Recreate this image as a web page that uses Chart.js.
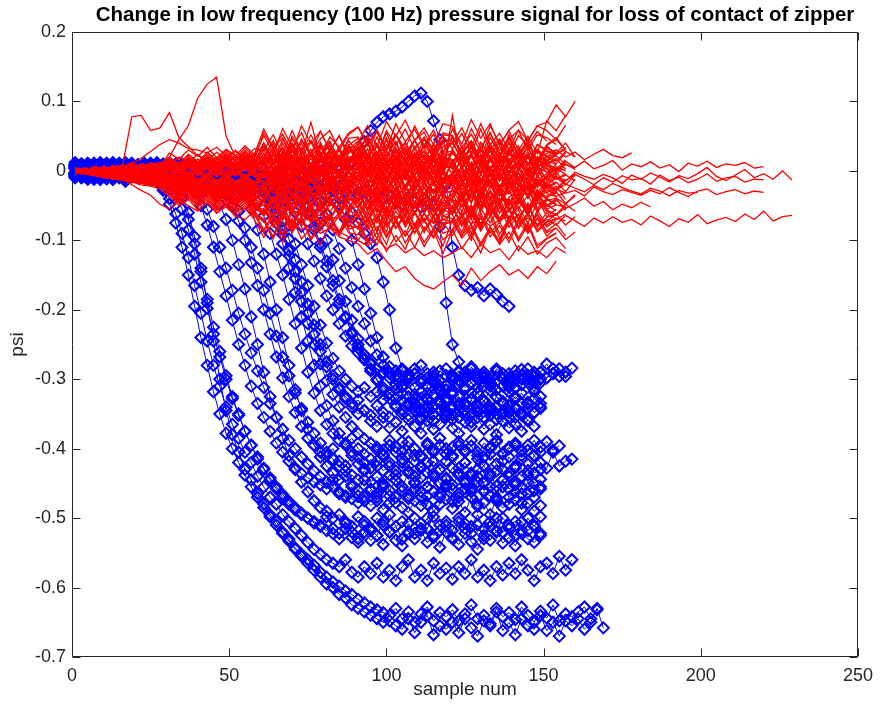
<!DOCTYPE html>
<html>
<head>
<meta charset="utf-8">
<title>Low frequency pressure signal – zipper contact loss</title>
<script src="https://cdn.jsdelivr.net/npm/chart.js@4.4.1/dist/chart.umd.min.js"></script>
<style>
  html, body { margin: 0; padding: 0; background: #ffffff; }
  canvas { display: block; }
</style>
</head>
<body>
<canvas id="chart" width="881" height="706"></canvas>
<script>
// ---- axis setup -------------------------------------------------------
const xTickValues = [0, 50, 100, 150, 200, 250];
const yTickValues = [0.2, 0.1, 0, -0.1, -0.2, -0.3, -0.4, -0.5, -0.6, -0.7];
const yTickLabels = ['0.2', '0.1', '0', '-0.1', '-0.2', '-0.3', '-0.4', '-0.5', '-0.6', '-0.7'];
const TITLE = 'Change in low frequency (100 Hz) pressure signal for loss of contact of zipper';

// Samples start at 1; red runs are stored every 3rd sample, blue runs every 2nd.
const FIRST_SAMPLE = 1;
const RED_STEP = 3;
const BLUE_STEP = 2;
// All run values below are in milli-psi.
const MPSI = 0.001;

// ---- contact lost (blue, diamond markers) -----------------------------
const blue01 = [5,-8,10,-3,12,-6,4,-10,8,-2, 6,-5,3,-9,-4,-12,-20,-35,-60,-95, -140,-190,-245,-300,-345,-380,-405,-430,-445,-465, -480,-495,-505,-520,-530,-545,-555,-565,-575,-585, -595,-600,-610,-615,-625,-630,-635,-640,-645,-650, -648,-655,-660,-645,-665,-650,-640,-668,-655,-660, -650,-665,-645,-658,-670,-648,-655,-635,-662,-650, -668,-645,-655,-660,-640,-662,-650,-670,-648,-655, -645,-660,-650,-630,-658];
const blue02 = [-6,8,-12,4,-3,11,-8,2,-15,6, -4,9,-10,-15,-25,-40,-62,-90,-125,-165, -205,-245,-280,-310,-340,-365,-385,-405,-420,-440, -455,-470,-480,-495,-505,-515,-525,-535,-545,-552, -560,-565,-570,-560,-578,-585,-570,-580,-565,-585, -575,-590,-570,-560,-585,-575,-590,-565,-580,-572, -588,-570,-580,-560,-585,-575,-590,-570,-582,-565, -580,-560,-575,-590,-570,-565,-580,-555,-575,-560];
const blue03 = [10,-4,6,-11,3,-7,12,-2,8,-9, 4,-6,11,-3,-8,-14,-22,-40,-70,-105, -145,-185,-225,-260,-295,-325,-350,-375,-395,-415, -430,-445,-458,-470,-480,-488,-495,-500,-505,-510, -498,-515,-522,-505,-520,-530,-510,-518,-525,-505, -520,-512,-530,-508,-522,-515,-500,-525,-518,-510, -528,-505,-515,-522,-510,-530,-512,-500,-520,-515, -525,-505,-518,-510,-522];
const blue04 = [-3,9,-7,5,-12,2,7,-5,10,-8, 3,-10,6,-2,9,-5,-11,-8,-18,-30, -50,-78,-110,-145,-180,-215,-250,-280,-310,-335, -355,-375,-392,-405,-418,-428,-436,-442,-448,-452, -458,-445,-465,-470,-455,-468,-475,-460,-470,-455, -468,-478,-460,-472,-458,-470,-480,-462,-470,-455, -475,-465,-458,-470,-480,-462,-468,-475,-455,-470, -462,-478,-465,-470,-458];
const blue05 = [7,-5,2,-10,9,-4,-8,6,-2,11, -6,4,-9,7,-3,-8,5,-12,-6,-15, -10,-22,-30,-48,-70,-100,-135,-170,-210,-250, -290,-325,-355,-385,-410,-430,-448,-462,-475,-485, -490,-500,-495,-508,-512,-498,-505,-515,-500,-510, -495,-512,-505,-520,-500,-508,-515,-498,-510,-505, -518,-500,-508,-512,-495,-515,-505,-520,-500,-510, -505,-518,-500,-512,-498];
const blue06 = [-9,4,8,-6,11,-3,-10,5,-4,9, -7,3,-12,6,-5,10,-8,-3,-14,-6, -18,-10,-24,-20,-35,-50,-72,-100,-132,-165, -200,-235,-268,-298,-325,-348,-368,-385,-395,-405, -410,-400,-418,-425,-410,-422,-430,-415,-425,-408, -420,-432,-415,-425,-410,-428,-420,-405,-430,-418, -412,-428,-420,-435,-415,-425,-408,-422,-430,-412, -425,-415,-432,-410,-420,-428,-405,-425,-418,-415];
const blue07 = [12,-7,3,-4,8,-11,5,-2,-9,7, -3,8,-6,2,-11,5,-7,-2,-10,4, -8,-14,-5,-18,-12,-25,-20,-35,-55,-85, -120,-160,-200,-240,-280,-315,-345,-372,-395,-412, -425,-435,-445,-440,-452,-460,-445,-458,-465,-450, -460,-445,-455,-468,-450,-462,-455,-440,-465,-452, -458,-470,-450,-462,-448,-460,-455,-470,-445,-458, -452,-465,-448,-460,-455];
const blue08 = [-4,10,-8,3,-12,6,2,-7,10,-3, 8,-5,2,-9,6,-4,-12,7,-6,-2, -10,4,-15,-8,-20,-12,-26,-18,-30,-45, -65,-90,-120,-150,-185,-220,-255,-290,-320,-345, -365,-378,-388,-395,-385,-400,-408,-392,-402,-410, -395,-405,-390,-408,-400,-412,-395,-405,-385,-400, -410,-395,-402,-388,-405,-412,-398,-390,-408,-400, -395,-410,-402,-388,-405];
const blue09 = [6,-10,4,-5,9,-2,-8,11,-4,3, -9,5,-3,10,-7,2,-11,4,-8,6, -5,-14,2,-10,-20,-8,-16,-25,-14,-22, -30,-42,-60,-85,-115,-145,-175,-205,-235,-260, -282,-300,-315,-325,-335,-330,-345,-352,-338,-348, -355,-340,-350,-335,-345,-358,-340,-350,-335,-348, -342,-355,-338,-350,-345,-332,-352,-340,-348,-355, -340,-350,-335,-348,-342];
const blue10 = [-2,7,-11,5,-6,10,-4,2,-9,8, 4,-8,9,-5,3,-10,6,-3,-12,2, -6,-15,-4,-12,-22,-10,-18,-28,-20,-30, -25,-38,-50,-72,-98,-128,-160,-192,-222,-250, -275,-295,-312,-328,-340,-350,-345,-360,-368,-355, -370,-362,-375,-358,-368,-378,-360,-372,-365,-355, -370,-378,-362,-368,-355,-372,-365,-380,-360,-370, -365,-375,-358,-368];
const blue11 = [9,-3,5,-12,7,-6,3,-9,12,-5, 2,-7,10,-4,7,-10,3,-6,9,-13, 4,-8,-2,-15,-6,-20,-10,-18,-24,-14, -28,-20,-35,-30,-45,-60,-80,-105,-130,-155, -180,-200,-220,-238,-252,-262,-270,-278,-285,-290, -282,-295,-288,-300,-292,-280,-298,-290,-302,-285, -295,-288,-300,-282,-296,-290,-305,-285,-292,-298, -288,-300,-285,-295,-290,-278,-292,-285,-296,-284];
const blue12 = [-8,5,-2,9,-10,3,-5,8,-7,1, -4,11,-6,3,-9,6,-2,-11,5,-7, -3,-12,6,-9,-16,-5,-20,-12,-8,-22, -15,-26,-18,-32,-25,-38,-45,-60,-80,-105, -130,-158,-185,-210,-235,-255,-272,-288,-300,-312, -320,-315,-330,-338,-322,-335,-328,-340,-318,-332, -338,-325,-335,-320,-340,-330,-345,-325,-332,-338, -325,-335,-342,-328,-335];
const blue13 = [3,-9,8,-4,6,-11,9,-3,-6,10, -8,4,-5,12,-3,-9,7,-4,-10,3, -7,-14,-2,-11,-6,-18,-8,-15,-22,-10, -20,-14,-28,-18,-25,-32,-22,-35,-30,-45, -62,-85,-112,-140,-168,-195,-220,-245,-265,-280, -292,-300,-310,-298,-312,-305,-320,-300,-315,-308, -318,-302,-312,-305,-320,-298,-310,-315,-300,-312];
const blue14 = [-5,10,-3,6,-9,4,-12,7,-2,8, -6,3,-10,5,-4,9,-7,2,-13,6, -2,-9,5,-12,-4,-16,-6,-10,-18,-8, -14,-22,-10,-18,-26,-15,-20,-30,-22,-28, -35,-25,-40,-32,-60,-75,-90,-105,-125,-160, -200,-255,-285,-300,-292,-305,-310,-295,-302,-315, -298,-308,-290,-305,-312,-295,-300,-288,-310,-302, -295,-308,-300,-290,-305,-298,-292];
const blue15 = [8,-6,2,-10,5,-3,11,-8,4,-5, 6,-9,3,-4,10,-7,2,-12,5,-3, -8,4,-11,-5,2,-14,-6,-9,-3,-15, -8,-18,-12,-5,-20,-14,-10,-22,-16,-25, -18,-28,-22,-30,-24,-35,-28,-38,-32,-40, -35,-42,-48,-38,-45,-52,-44,-50,-80,-190, -250,-275,-295,-305,-292,-310,-300,-315,-298,-308, -312,-295,-305,-318,-300];
const blue16 = [-10,5,-4,9,-7,3,-12,6,-2,8, -5,10,-8,2,-6,11,-3,-9,4,-7, 6,-4,9,-8,3,-11,5,-2,8,-6, 2,-9,7,-4,10,-3,-8,5,-2,9, 4,-5,8,2,12,25,42,58,70,78, 82,86,92,100,108,112,100,72,45,-20, -110,-150,-165,-172,-168,-180,-170,-178,-188,-195];
const blue17 = [4,-8,11,-2,6,-10,3,-5,9,-7, -3,8,-11,4,-6,7,-9,2,-4,-14, 5,-10,-3,-16,-8,-4,-18,-12,-6,-20, -10,-24,-15,-8,-28,-18,-25,-12,-30,-22, -35,-28,-48,-70,-100,-135,-170,-205,-240,-268, -290,-308,-320,-335,-328,-345,-338,-350,-332,-345, -352,-338,-345,-330,-348,-355,-340,-350,-335,-348, -342,-352,-336,-348,-340];
const blue18 = [-7,6,-2,10,-11,4,-5,8,-3,2, 9,-6,3,-12,5,-8,10,-4,-2,-9, 3,-13,-6,2,-15,-9,-4,-18,-10,-20, -32,-50,-75,-105,-140,-175,-210,-245,-280,-310, -338,-360,-378,-392,-405,-412,-420,-428,-418,-432, -425,-438,-420,-432,-440,-425,-435,-418,-430,-442, -428,-435,-420,-438,-430,-425,-440,-432,-418,-435, -428,-440,-422,-435,-430];
const blue19 = [-4,9,-7,3,-11,6,-2,8,-9,4, -6,2,-10,-14,-28,-48,-75,-110,-150,-195, -240,-280,-318,-350,-378,-400,-420,-438,-455,-470, -485,-498,-510,-522,-533,-543,-552,-560,-568,-578, -585,-592,-598,-605,-610,-617,-622,-628,-632,-636, -640,-630,-645,-635,-650,-638,-628,-648,-636,-642, -632,-648,-638,-625,-645,-640,-652,-630,-642,-636, -646,-628,-640,-650,-634,-644,-625,-648,-638,-642, -635,-628,-645,-632];
const blue20 = [8,-5,3,-9,6,-2,10,-7,1,-4, 7,-10,5,-6,-12,-20,-34,-55,-85,-120, -160,-198,-235,-268,-300,-328,-352,-375,-395,-412, -428,-442,-455,-466,-476,-485,-493,-500,-507,-512, -518,-522,-530,-515,-528,-535,-520,-532,-525,-538, -520,-532,-540,-522,-530,-518,-535,-528,-542,-520, -530,-538,-522,-534,-545,-525,-532,-518,-536,-528, -540,-522,-530,-535,-525];
const blue21 = [-6,3,10,-4,7,-9,2,-3,9,-7, 5,-2,-8,4,-11,6,-5,-14,-9,-22, -35,-55,-80,-110,-140,-172,-205,-235,-262,-288, -312,-335,-355,-372,-388,-400,-412,-422,-432,-440, -448,-455,-462,-468,-472,-478,-470,-482,-475,-488, -478,-470,-485,-492,-475,-482,-468,-490,-480,-473, -486,-476,-492,-470,-483,-478,-495,-472,-485,-480, -474,-488,-478,-490,-482];
const blue22 = [5,-8,2,11,-6,4,-10,7,-3,6, -9,3,-5,8,-2,-10,6,-7,-15,-4, -12,-20,-9,-18,-28,-40,-58,-82,-110,-140, -172,-205,-238,-268,-295,-320,-342,-362,-378,-392, -405,-415,-425,-432,-438,-445,-432,-448,-440,-452, -438,-446,-455,-435,-448,-442,-456,-436,-450,-444, -452,-438,-447,-458,-440,-450,-436,-454,-445,-440, -448,-456,-438,-450,-444];
const blue23 = [-3,8,-6,1,-10,7,3,-8,5,-2, 9,-4,2,-11,7,-6,4,-3,-12,8, -5,-14,-2,-10,-18,-7,-22,-14,-25,-18, -30,-45,-66,-92,-122,-155,-188,-220,-250,-278, -302,-322,-340,-355,-368,-378,-386,-392,-398,-402, -388,-398,-405,-390,-400,-410,-392,-402,-395,-408, -398,-390,-405,-396,-410,-392,-400,-388,-406,-398, -392,-404,-395,-410,-398,-390,-402,-396];
const blue24 = [6,-9,3,-5,10,-2,-7,4,-11,8, -1,6,-8,3,-5,9,-12,2,-6,-3, -9,4,-13,-7,-2,-16,-8,-20,-11,-24, -18,-30,-38,-55,-78,-105,-135,-165,-195,-222, -248,-270,-288,-300,-310,-318,-312,-325,-318,-330, -320,-328,-312,-325,-335,-318,-330,-322,-310,-328, -322,-335,-315,-328,-320,-332,-316,-326,-334,-318, -328,-320,-333,-315,-325];
const blue25 = [-5,2,8,-7,4,-11,6,-1,9,-6, 3,-8,5,-2,-10,7,-4,-13,2,-9, -6,-15,-3,-12,-8,-19,-10,-14,-22,-16, -12,-24,-17,-28,-20,-32,-26,-40,-55,-75, -100,-128,-158,-188,-215,-242,-265,-285,-302,-316, -328,-338,-345,-352,-340,-355,-348,-360,-345,-352, -358,-345,-352,-362,-348,-355,-342,-358,-350,-345, -355,-348,-360];
const blue26 = [3,-7,10,-3,6,-9,1,8,-5,4, -10,5,-2,7,-8,3,-6,10,-4,-11, 2,-7,-14,-4,-10,-18,-6,-13,-20,-9, -16,-24,-12,-28,-20,-32,-45,-62,-85,-110, -138,-165,-190,-212,-232,-250,-265,-276,-285,-292, -298,-288,-302,-295,-285,-300,-292,-305,-288,-296, -302,-290,-298,-285,-300,-294,-306,-288,-298,-292, -300,-286,-295,-304,-290,-298,-285,-296,-290];

// ---- contact kept (red lines) -----------------------------------------
const red01 = [3,-4,6,0,8,5,12,4,10,6, 26,17,30,21,34,19,31,22,36,24, 60,33,53,27,65,39,57,30,50,25, 41,65,35,71,50,73,44,62,38,68, 64,38,74,47,68,36,59,71,43,65, 70,95,78,100];
const red02 = [-2,5,-3,7,2,9,4,11,6,13, 8,20,12,24,14,27,15,30,18,32, 30,52,23,58,28,44,20,49,34,55, 63,40,56,29,52,32,65,36,59,26, 60,33,53,27,65,39,57,30,50,25, 72,58,80];
const red03 = [4,-2,7,1,5,-1,9,3,8,4, 16,6,19,9,21,11,24,13,27,15, 20,44,14,50,29,52,23,41,17,47, 49,23,59,32,53,21,44,56,28,50, 32,54,25,60,30,46,22,51,36,57, 43];
const red04 = [-5,2,-1,6,0,4,-3,8,3,10, 3,14,6,17,8,20,10,22,13,24, 36,10,46,19,40,8,31,43,15,37, 47,20,40,14,52,26,44,17,37,12, 50,27,43,16,39,19,52,23,46,13, 38,48,30];
const red05 = [2,-3,5,-1,3,-4,6,1,7,2, 12,3,14,5,16,7,18,8,20,10, 39,16,32,5,28,8,41,12,35,2, 17,39,10,45,15,31,7,36,21,42, 11,35,5,41,20,43,14,32,8,38, 30,22];
const red06 = [-1,4,-2,5,1,6,-1,7,3,5, 10,2,12,4,13,6,15,7,16,8, 9,31,2,37,7,23,-1,28,13,34, 35,8,28,2,40,14,32,5,25,0, 29,3,39,12,33,1,24,36,8,30, 22,14,28,20];
const red07 = [5,0,3,-2,6,1,4,-1,7,2, 8,1,10,3,11,4,12,5,13,6, -1,23,-7,29,8,31,2,20,-4,26, 33,10,26,-1,22,2,35,6,29,-4, 80,3,23,-3,35,9,27,0,20,-5, 16,24];
const red08 = [-3,2,-4,3,0,5,-2,6,1,4, 7,0,9,1,10,2,11,3,12,4, 18,-8,28,1,22,-10,13,25,-3,19, 2,24,-5,30,0,16,-8,21,6,27, 28,5,21,-6,17,-3,30,1,24,-9, 10,18,2];
const red09 = [1,-3,4,-1,2,-4,5,0,3,-2, 6,-3,7,-2,8,-1,8,-2,9,-1, 19,-8,12,-14,24,-2,16,-11,9,-16, -9,15,-15,21,0,23,-6,12,-12,18, 14,-12,24,-3,18,-14,9,21,-7,15, 8,-2,14,4];
const red10 = [-2,3,0,-4,2,-1,4,-3,1,-5, 5,-5,7,-6,6,-4,8,-7,5,-8, -8,14,-15,20,-10,6,-18,11,-4,17, 18,-5,11,-16,7,-13,20,-9,14,-19, 15,-12,8,-18,20,-6,12,-15,5,-20, -7,6,0];
const red11 = [4,0,-2,3,-1,2,-5,1,-3,2, -8,4,-9,3,-7,5,-10,2,-8,4, 15,-8,8,-19,4,-16,17,-12,11,-22, 12,-15,5,-21,17,-9,9,-18,2,-23, -17,7,-23,13,-8,15,-14,4,-20,10, 3,-12,-4];
const red12 = [-1,2,-3,1,-4,0,-2,-6,1,-5, -10,1,-12,0,-11,2,-13,-1,-14,0, -21,3,-27,9,-12,11,-18,0,-24,6, 1,-25,11,-16,5,-27,-4,8,-20,2, -16,6,-23,12,-18,-2,-26,3,-12,9, -13,-2,-20,-6];
const red13 = [2,-2,1,-4,3,-3,0,-6,2,-5, -2,-12,-1,-13,-3,-15,-4,-16,-5,-17, -1,-27,9,-18,3,-29,-6,6,-22,0, -20,2,-27,8,-22,-6,-30,-1,-16,5, 6,-17,-1,-28,-5,-25,8,-21,2,-31, -15,-6];
const red14 = [-4,1,-2,3,-5,-1,-3,2,-7,-2, -3,-14,-4,-16,-6,-17,-7,-19,-8,-20, -22,0,-29,6,-24,-8,-32,-3,-18,3, 2,-21,-5,-32,-9,-29,4,-25,-2,-35, -1,-28,-8,-34,4,-22,-4,-31,-11,-36, -18,-26,-12];
const red15 = [3,-1,-4,2,-3,0,-6,-2,-4,-8, -4,-15,-6,-17,-8,-19,-9,-21,-11,-23, 0,-23,-7,-34,-11,-31,2,-27,-4,-37, -5,-32,-12,-38,0,-26,-8,-35,-15,-40, -34,-10,-40,-4,-25,-2,-31,-13,-37,-7, -23,-16,-30,-12];
const red16 = [-2,2,-1,-5,0,-3,-7,-2,-6,-4, -6,-16,-8,-19,-10,-22,-11,-24,-13,-26, -7,-34,-14,-40,-2,-28,-10,-37,-17,-42, -39,-15,-45,-9,-30,-7,-36,-18,-42,-12, -16,-42,-6,-33,-12,-44,-21,-9,-37,-15, -24,-30];
const red17 = [1,-3,2,-4,-1,-6,-3,-8,-4,-10, -8,-19,-10,-22,-12,-25,-14,-27,-16,-29, -41,-17,-47,-11,-32,-9,-38,-20,-44,-14, -21,-47,-11,-38,-17,-49,-26,-14,-42,-20, -38,-16,-45,-10,-40,-24,-48,-19,-34,-13, -32,-22,-41];
const red18 = [-3,0,-5,-2,-6,-3,-8,-5,-10,-6, -9,-20,-12,-24,-14,-27,-17,-30,-19,-33, -22,-48,-12,-39,-18,-50,-27,-15,-43,-21, -43,-21,-50,-15,-45,-29,-53,-24,-39,-18, -17,-40,-24,-51,-28,-48,-15,-44,-21,-54, -39,-30,-47,-36];
const red19 = [0,-4,-1,-6,-3,-8,-5,-10,-7,-12, -12,-23,-15,-27,-18,-30,-20,-33,-23,-36, -43,-21,-50,-15,-45,-29,-53,-24,-39,-18, -22,-45,-29,-56,-33,-53,-20,-49,-26,-59, -25,-52,-32,-58,-20,-46,-28,-55,-35,-60, -40,-49];
const red20 = [2,-2,-1,-5,-3,-7,-6,-10,-8,-13, -14,-26,-17,-30,-20,-33,-23,-37,-26,-40, -22,-45,-29,-56,-33,-53,-20,-49,-26,-59, -30,-57,-37,-63,-25,-51,-33,-60,-40,-65, -59,-35,-65,-29,-50,-27,-56,-38,-62,-32, -50,-40,-57];
const red21 = [-1,-3,-2,-6,-5,-9,-7,-12,-10,-15, -17,-29,-20,-33,-23,-37,-26,-41,-29,-44, -29,-56,-36,-62,-24,-50,-32,-59,-39,-64, -64,-40,-70,-34,-55,-32,-61,-43,-67,-37, -41,-67,-31,-58,-37,-69,-46,-34,-62,-40, -56,-63,-48,-58];
const red22 = [3,-1,-3,-5,-4,-8,-9,-12,-11,-16, -19,-31,-22,-35,-25,-39,-28,-43,-31,-47, -62,-38,-68,-32,-53,-30,-59,-41,-65,-35, -46,-72,-36,-63,-42,-74,-51,-39,-67,-45, -63,-41,-70,-35,-65,-49,-73,-44,-59,-38, -66,-55];
const red23 = [-2,-4,-3,-7,-6,-10,-9,-14,-12,-18, -21,-34,-24,-38,-27,-42,-30,-46,-33,-50, -44,-70,-34,-61,-40,-72,-49,-37,-65,-43, -68,-46,-75,-40,-70,-54,-78,-49,-64,-43, -42,-65,-49,-76,-53,-73,-40,-69,-46,-79, -60,-70,-62];
const red24 = [0,-3,-5,-6,-8,-9,-12,-13,-16,-18, -23,-36,-26,-40,-29,-44,-33,-48,-36,-52, -65,-43,-72,-37,-67,-51,-75,-46,-61,-40, -47,-70,-54,-81,-58,-78,-45,-74,-51,-84, -50,-77,-57,-83,-45,-71,-53,-80,-60,-85, -73,-62,-78,-66];
const red25 = [-3,-2,-6,-5,-9,-8,-12,-14,-15,-19, -25,-38,-28,-42,-31,-46,-35,-50,-38,-54, -44,-67,-51,-78,-55,-75,-42,-71,-48,-81, -55,-82,-62,-88,-50,-76,-58,-85,-65,-90, -84,-60,-90,-54,-75,-52,-81,-63,-87,-57, -78,-68];
const red26 = [1,-4,-4,-8,-7,-11,-11,-15,-16,-20, -28,-41,-31,-46,-35,-50,-39,-54,-42,-58, -54,-81,-61,-87,-49,-75,-57,-84,-64,-89, -92,-68,-98,-62,-83,-60,-89,-71,-95,-65, -69,-95,-59,-86,-65,-97,-74,-62,-90,-68, -87,-76,-94];
const red27 = [-2,-5,-6,-9,-10,-13,-14,-18,-19,-23, -31,-44,-35,-49,-39,-54,-43,-58,-46,-62, -89,-65,-95,-59,-80,-57,-86,-68,-92,-62, -76,-102,-66,-93,-72,-104,-81,-69,-97,-75, -93,-71,-100,-65,-95,-79,-103,-74,-89,-68, -94,-82,-99,-88];
const red28 = [0,-3,-7,-8,-12,-12,-16,-17,-21,-22, -34,-47,-38,-52,-42,-57,-46,-61,-50,-66, -72,-98,-62,-89,-68,-100,-77,-65,-93,-71, -100,-78,-107,-72,-102,-86,-110,-81,-96,-75, -74,-97,-81,-108,-85,-105,-72,-101,-78,-111, -98,-90];
const red29 = [-1,-4,-6,-10,-11,-14,-16,-20,-22,-26, -37,-50,-41,-56,-45,-61,-49,-66,-53,-70, -96,-74,-103,-68,-98,-82,-106,-77,-92,-71, -82,-105,-89,-116,-93,-113,-80,-109,-86,-119, -85,-112,-92,-118,-80,-106,-88,-115,-95,-120, -104,-96,-112];
const red30 = [0,4,-2,2,-5,3,0,6,-1,4, 7,-2,9,-1,10,0,11,-1,12,1, 25,2,18,-9,14,-6,27,-2,21,-12, 17,-9,27,0,21,-11,12,24,-4,18, -6,18,-12,24,3,26,-3,15,-9,21, 10,2,16];
const red31 = [2,-1,3,-3,0,-2,2,-5,-1,-3, -9,3,-10,2,-11,1,-12,0,-13,-1, 10,-17,3,-23,15,-11,7,-20,0,-25, -14,8,-21,14,-16,0,-24,5,-10,11, 3,-23,13,-14,7,-25,-2,10,-18,4, -1,-12,-6,-14];
const red32 = [3,0,5,2,4,7,3,9,5,8, 14,4,16,6,17,8,19,9,20,11, 11,33,4,39,9,25,1,30,15,36, 8,32,2,38,17,40,11,29,5,35, 40,17,33,6,29,9,42,13,36,3, 20,30];
const red33 = [1,-2,0,-5,-3,-2,-7,-4,-6,-9, -3,-14,-5,-16,-6,-18,-8,-19,-9,-21, -30,-6,-36,0,-21,2,-27,-9,-33,-3, -3,-30,-10,-36,2,-24,-6,-33,-13,-38, -9,-35,1,-26,-5,-37,-14,-2,-30,-8, -20,-28,-14];
const red34 = [-4,1,3,-2,5,-1,2,-4,4,0, -5,7,-6,8,-4,9,-7,6,-8,7, 12,-14,22,-5,16,-16,7,19,-9,13, 21,-2,14,-13,10,-10,23,-6,17,-16, -5,17,-12,23,-7,9,-15,14,-1,20, 5,-6,10,2];
const red35 = [0,2,-2,-1,-4,-2,-6,-3,-5,-8, -8,-18,-10,-21,-12,-24,-14,-26,-16,-28, -19,-46,-26,-52,-14,-40,-22,-49,-29,-54, -31,-57,-21,-48,-27,-59,-36,-24,-52,-30, -54,-30,-60,-24,-45,-22,-51,-33,-57,-27, -41,-48];
const red36 = [1,-2,4,1,6,3,8,5,10,7, 16,7,19,10,21,12,23,14,25,16, 16,40,10,46,25,70,19,37,13,43, 27,49,20,55,25,41,17,46,31,52, 50,23,43,17,55,29,47,20,40,15, 37,45,30];
const red37 = [2,-3,5,1,7,3,9,4,12,8, 20,10,24,13,27,16,30,18,33,20, 51,25,61,34,55,23,46,58,30,52, 63,36,56,30,68,42,60,33,53,28, 40,62,33,68,38,54,30,59,44,65, 58,45,66];
const red38 = [-1,3,1,6,0,8,4,7,9,5, 18,8,21,11,24,13,27,15,29,17, 55,32,48,21,44,24,57,28,51,18, 28,52,22,58,37,60,31,49,25,55, 51,25,61,34,55,23,46,58,30,52, 48,38];
const red39 = [3,0,2,5,1,6,2,8,5,10, 15,5,17,7,19,9,21,10,23,12, 41,14,34,8,46,20,38,11,31,6, 39,13,49,22,43,11,34,46,18,40, 48,25,41,14,37,17,50,21,44,11, 36,24,34];
const red40 = [-3,1,-1,4,2,-2,5,3,7,2, 14,4,16,6,18,8,20,9,21,11, 10,34,4,40,19,42,13,31,7,37, 20,42,13,48,18,34,10,39,24,45, 43,16,36,10,48,22,40,13,33,8, 33,26,40,20];
const red41 = [1,4,-2,3,0,6,2,-1,5,3, 11,2,13,4,14,5,15,6,16,7, 34,11,27,0,23,3,36,7,30,-3, 27,1,37,10,31,-1,22,34,6,28, 4,28,-2,34,13,36,7,25,1,31, 13,24];
const red42 = [0,-3,2,-1,4,1,-2,5,2,7, 10,0,11,2,12,3,13,4,14,5, 4,26,-3,32,2,18,-6,23,8,29, 29,2,22,-4,34,8,26,-1,19,-6, 32,9,25,-2,21,1,34,5,28,-5, 15,22,9];
const red43 = [2,-1,0,3,-3,2,5,-1,3,6, 8,-1,10,1,11,2,12,3,13,4, 25,-2,18,-8,30,4,22,-5,15,-10, -2,22,-8,28,7,30,1,19,-5,25, 4,26,-3,32,2,18,-6,23,8,29, 9,16];
const red44 = [-2,1,3,-1,2,-3,4,0,-2,5, 7,-3,8,-2,9,-1,10,-2,10,0, -9,15,-15,21,0,23,-6,12,-12,18, 24,1,17,-10,13,-7,26,-3,20,-13, 15,-11,25,-2,19,-13,10,22,-6,16, 8,0,12];
const red45 = [1,-2,0,3,-1,2,-3,4,1,-2, 6,-5,7,-4,8,-6,9,-5,7,-7, 11,-15,21,-6,15,-17,6,18,-10,12, 17,-10,10,-16,22,-4,14,-13,7,-18, -6,16,-13,22,-8,8,-16,13,-2,19, -3,9];
const red46 = [0,2,-1,-3,1,-2,3,-4,0,2, 4,-7,5,-8,6,-9,4,-8,5,-9, -10,12,-17,18,-12,4,-20,9,-6,15, -16,8,-22,14,-7,16,-13,5,-19,11, 16,-7,9,-18,5,-15,18,-11,12,-21, -9,4,-5];
const red47 = [-1,1,2,-2,0,-4,1,-1,-5,2, -9,2,-10,1,-11,3,-12,0,-10,2, 14,-9,7,-20,3,-17,16,-13,10,-23, 5,-21,15,-12,9,-23,0,12,-16,6, 11,-16,4,-22,16,-10,8,-19,1,-24, -10,-2];
const red48 = [2,0,-2,1,-3,-1,-5,0,-4,-7, -2,-12,-3,-13,-4,-14,-5,-15,-6,-16, 6,-21,-1,-27,11,-15,3,-24,-4,-29, 8,-15,1,-26,-3,-23,10,-19,4,-29, -24,0,-30,6,-15,8,-21,-3,-27,3, -12,-18];
const red49 = [-1,2,-3,0,-2,-5,-1,-6,-3,-8, -4,-14,-5,-15,-6,-16,-7,-18,-8,-19, -3,-29,7,-20,1,-31,-8,4,-24,-2, -28,-4,-34,2,-19,4,-25,-7,-31,-1, -22,0,-29,6,-24,-8,-32,-3,-18,3, -21,-10,-19];
const red50 = [1,-2,-1,-4,-2,-6,-3,-5,-8,-4, -6,-16,-8,-19,-10,-21,-11,-23,-13,-25, -27,-5,-34,1,-29,-13,-37,-8,-23,-2, -13,-39,-3,-30,-9,-41,-18,-6,-34,-12, -4,-27,-11,-38,-15,-35,-2,-31,-8,-41, -24,-18];
const red51 = [0,-3,-2,-1,-5,-3,-7,-4,-6,-9, -7,-17,-9,-20,-11,-22,-12,-24,-14,-26, -3,-26,-10,-37,-14,-34,-1,-30,-7,-40, -38,-14,-44,-8,-29,-6,-35,-17,-41,-11, -9,-36,-16,-42,-4,-30,-12,-39,-19,-44, -28,-33];
const red52 = [2,-1,-3,-2,-4,-6,-3,-8,-5,-7, -9,-19,-11,-22,-13,-24,-15,-26,-17,-28, -38,-14,-44,-8,-29,-6,-35,-17,-41,-11, -36,-14,-43,-8,-38,-22,-46,-17,-32,-11, -19,-45,-9,-36,-15,-47,-24,-12,-40,-18, -25,-37,-31];
const red53 = [-2,0,-4,-3,-5,-7,-6,-9,-8,-11, -10,-21,-12,-24,-14,-27,-16,-29,-18,-31, -19,-45,-9,-36,-15,-47,-24,-12,-40,-18, -14,-37,-21,-48,-25,-45,-12,-41,-18,-51, -40,-18,-47,-12,-42,-26,-50,-21,-36,-15, -33,-37];
const red54 = [1,-2,-4,-3,-6,-5,-8,-7,-10,-9, -12,-23,-14,-26,-17,-29,-19,-32,-21,-34, -18,-45,-25,-51,-13,-39,-21,-48,-28,-53, -52,-28,-58,-22,-43,-20,-49,-31,-55,-25, -20,-43,-27,-54,-31,-51,-18,-47,-24,-57, -43,-39,-48,-34];
const red55 = [-1,-3,-2,-5,-4,-8,-6,-10,-9,-12, -14,-25,-16,-28,-19,-31,-21,-34,-23,-37, -45,-23,-52,-17,-47,-31,-55,-26,-41,-20, -27,-54,-34,-60,-22,-48,-30,-57,-37,-62, -33,-59,-23,-50,-29,-61,-38,-26,-54,-32, -40,-48];
const red56 = [0,-2,-4,-4,-7,-6,-10,-9,-12,-12, -16,-28,-19,-32,-22,-35,-24,-38,-27,-41, -24,-47,-31,-58,-35,-55,-22,-51,-28,-61, -39,-65,-29,-56,-35,-67,-44,-32,-60,-38, -62,-38,-68,-32,-53,-30,-59,-41,-65,-35, -55,-49,-52];
const red57 = [-2,-1,-5,-4,-7,-8,-10,-11,-13,-14, -18,-30,-21,-34,-24,-37,-27,-41,-30,-44, -60,-36,-66,-30,-51,-28,-57,-39,-63,-33, -34,-57,-41,-68,-45,-65,-32,-61,-38,-71, -60,-38,-67,-32,-62,-46,-70,-41,-56,-35, -48,-58];
const red58 = [1,-3,-3,-6,-6,-9,-9,-12,-13,-15, -20,-33,-23,-37,-26,-40,-29,-44,-32,-47, -42,-68,-32,-59,-38,-70,-47,-35,-63,-41, -43,-70,-50,-76,-38,-64,-46,-73,-53,-78, -72,-48,-78,-42,-63,-40,-69,-51,-75,-45, -58,-64,-52];
const red59 = [-1,-2,-4,-6,-7,-9,-10,-13,-14,-17, -22,-35,-25,-39,-28,-42,-31,-46,-34,-49, -63,-41,-70,-35,-65,-49,-73,-44,-59,-38, -53,-79,-43,-70,-49,-81,-58,-46,-74,-52, -44,-67,-51,-78,-55,-75,-42,-71,-48,-81, -67,-63];
const red60 = [0,-3,-4,-7,-8,-10,-12,-14,-16,-18, -24,-37,-27,-41,-30,-45,-33,-49,-36,-52, -42,-65,-49,-76,-53,-73,-40,-69,-46,-79, -82,-58,-88,-52,-73,-50,-79,-61,-85,-55, -53,-80,-60,-86,-48,-74,-56,-83,-63,-88, -74,-68,-72];
const red61 = [-1,-3,-5,-6,-9,-10,-13,-14,-17,-19, -25,-39,-28,-43,-32,-47,-35,-51,-38,-55, -49,-76,-56,-82,-44,-70,-52,-79,-59,-84, -80,-58,-87,-52,-82,-66,-90,-61,-76,-55, -63,-89,-53,-80,-59,-91,-68,-56,-84,-62, -81,-71];
const red62 = [1,-4,-5,-8,-9,-12,-14,-16,-19,-21, -28,-42,-31,-47,-35,-51,-39,-55,-42,-59, -85,-61,-91,-55,-76,-53,-82,-64,-88,-58, -62,-85,-69,-96,-73,-93,-60,-89,-66,-99, -88,-66,-95,-60,-90,-74,-98,-69,-84,-63, -89,-82];
const red63 = [-2,-4,-6,-8,-11,-13,-15,-18,-20,-23, -31,-45,-35,-50,-39,-55,-43,-59,-46,-63, -69,-95,-59,-86,-65,-97,-74,-62,-90,-68, -73,-100,-80,-106,-68,-94,-76,-103,-83,-108, -70,-93,-77,-104,-81,-101,-68,-97,-74,-107, -97,-89];
const red64 = [2,-2,0,-3,1,-4,-2,-6,-1,-8, -5,-15,-7,-18,-9,-20,-10,-22,-12,-24, -26,-4,-33,2,-28,-12,-36,-7,-22,-1, -11,-37,-1,-28,-7,-39,-16,-4,-32,-10, -5,-32,-12,-38,0,-26,-8,-35,-15,-40, -21,-28];
const red65 = [-1,1,-3,-2,-5,-3,-7,-6,-9,-8, -14,-26,-17,-30,-20,-33,-23,-37,-26,-40, -31,-57,-21,-48,-27,-59,-36,-24,-52,-30, -53,-31,-60,-25,-55,-39,-63,-34,-49,-28, -59,-35,-65,-29,-50,-27,-56,-38,-62,-32, -52,-44];
const red66 = [0,3,-1,4,2,6,1,7,4,9, 12,2,14,4,15,6,17,7,18,9, 30,4,40,13,34,2,25,37,9,31, 43,20,36,9,32,12,45,16,39,6, 11,35,5,41,20,43,14,32,8,38, 28,24,31];

// Runs with early excursions above and below the main band
const redBumpA = [0,3,-2,4,2,5,78,80,58,62, 84,48,35,22,15,18,12,20,14,22, 17,24,13,21,16,26,12,19,23,15, 25,18,14,22,27,16,20,13,24,19, 15,23,28,17,21,12,26,18,22,30, 20,25];
const redBumpB = [-2,1,3,0,4,2,6,3,8,10, 20,45,65,105,125,135,50,20,12,18, 8,15,22,10,18,5,14,20,9,16, 12,3,18,8,22,6,15,11,19,4, 13,21,7,16,2,18,10,24,12,6, 15,9];
const redBumpC = [2,-1,4,1,3,6,10,18,28,38, 45,40,32,30,26,34,22,28,18,25, 20,14,26,18,12,22,16,28,10,20, 15,24,8,19,13,27,11,22,17,9, 25,14,20,8,28,16,11,23,18,13, 21,10,26];
const redLowA = [-2,1,-4,-3,-8,-12,-20,-28,-35,-48, -55,-42,-50,-58,-45,-60,-52,-65,-70,-58, -72,-65,-78,-70,-85,-76,-90,-82,-95,-100, -105,-120,-112,-130,-145,-138,-155,-165,-170,-160, -150,-165,-140,-158,-145,-135,-150,-142,-155,-138, -148,-130];
const redLowB = [1,-3,-1,-6,-4,-9,-8,-13,-12,-17, -16,-22,-20,-27,-25,-32,-30,-37,-35,-42, -45,-52,-50,-58,-62,-70,-75,-82,-88,-95, -100,-108,-98,-112,-105,-118,-110,-122,-115,-125, -118,-110,-125,-105,-118,-112,-128,-108,-120,-115, -125,-110,-118];

// Runs that were recorded for longer than the rest
const redTail1 = [-1,-4,-3,-7,-6,-10,-11,-14,-15,-19, -21,-24,-27,-30,-32,-36,-38,-41,-44,-47, -50,-53,-55,-58,-60,-63,-64,-67,-68,-70, -66,-74,-69,-77,-65,-72,-78,-68,-75,-70, -73,-66,-76,-69,-79,-71,-65,-74,-68,-77, -70,-78,-64,-72,-80,-68,-75,-66,-74,-70, -78,-65,-72,-80,-69,-74,-63,-76,-71,-67, -73,-62,-70,-58,-72,-66,-64];
const redTail2 = [2,-2,1,-3,0,-4,2,-5,-1,-3, 1,-6,-2,-4,3,-7,-1,-5,2,-8, -3,-9,0,-6,-2,-10,-4,1,-8,-3, -7,2,-10,-4,-1,-12,-5,3,-9,-2, -11,0,-6,-13,-3,-8,1,-10,-5,-14, -4,-9,-15,-2,-8,-12,-5,-10,-18,-6, -12,-3,-9,-16,-7,-11,-4,5,-8,-14, -6,2,-10,-4,-12,0,-13];
const redTail3 = [-1,3,0,4,-2,2,5,0,3,-1, 4,1,6,-2,3,7,0,5,2,8, 1,6,-3,4,9,0,7,2,10,-1, 5,11,2,8,-4,6,12,1,7,3, 9,-2,6,13,0,8,4,11,-3,7, 12,2,9,5,14,3,8,15,1,10, 6,13,4,9,-1,11,7,14,5,10, 8,12,4,6];
const redTail4 = [1,-3,2,-1,-4,0,-2,-6,1,-4, -2,-7,0,-5,-9,-3,-6,-1,-10,-4, -8,-2,-12,-5,-9,-15,-3,-11,-7,-14, -6,-13,-18,-8,-12,-4,-16,-10,-20,-9, -14,-7,-17,-11,-22,-6,-15,-19,-9,-13, -18,-8,-14,-5,-12,-20,-10,-16,-7,-13, -11,-19,-6,-14,-9,-17,-12,-4,-15,-10, -8,-16,-12,-13];
const redTail5 = [-2,1,-1,-4,0,-5,-3,-2,-7,-4, -6,-9,-5,-11,-8,-13,-10,-15,-12,-17, -14,-19,-16,-22,-18,-25,-20,-27,-23,-29, -25,-31,-27,-22,-33,-28,-24,-35,-26,-32, -29,-36,-24,-31,-38,-27,-33,-25,-35,-30, -37,-26,-32,-28,-36,-23,-30,-34,-27,-31, -35,-28,-33,-24,-31,-37,-29,-26,-34,-30, -27,-33,-29,-31];
const redTail6 = [0,3,-1,2,-3,1,-2,4,-1,-4, 2,-5,-1,-3,3,-6,-2,1,-7,-3, -5,0,-8,-4,-10,-2,-7,-11,-5,-9, -13,-6,-10,-15,-8,-12,-17,-9,-14,-19, -11,-16,-21,-13,-18,-24,-15,-20,-26,-17, -22,-28,-19,-25,-30,-21,-27,-18,-24,-29, -33,-25,-29,-36,-28,-32,-31];
const redTail7 = [1,-2,2,-4,-1,-3,-6,-2,-5,-8, -4,-9,-6,-12,-8,-14,-10,-16,-13,-18, -15,-21,-17,-24,-19,-27,-22,-30,-25,-33, -28,-36,-30,-39,-33,-42,-35,-45,-38,-47, -41,-49,-36,-45,-52,-40,-48,-43,-55,-46, -50,-42,-54,-47,-39,-51,-44,-56,-48,-53, -45,-52];
const redTail8 = [-1,2,0,4,1,3,6,2,5,8, 4,9,6,11,7,13,9,12,15,10, 16,12,18,14,20,11,17,22,15,19, 24,16,21,13,25,18,22,27,15,20, 26,17,23,29,19,24,14,28,21,18, 25,30,20,27,16,24,31,22,19,26];

const blueRuns = [blue01, blue02, blue03, blue04, blue05, blue06, blue07, blue08, blue09,
  blue10, blue11, blue12, blue13, blue14, blue15, blue16, blue17, blue18, blue19,
  blue20, blue21, blue22, blue23, blue24, blue25, blue26];
const redRuns = [red01, red02, red03, red04, red05, red06, red07, red08, red09, red10,
  red11, red12, red13, red14, red15, red16, red17, red18, red19, red20,
  red21, red22, red23, red24, red25, red26, red27, red28, red29, red30,
  red31, red32, red33, red34, red35, red36, red37, red38, red39, red40,
  red41, red42, red43, red44, red45, red46, red47, red48, red49, red50,
  red51, red52, red53, red54, red55, red56, red57, red58, red59, red60,
  red61, red62, red63, red64, red65, red66,
  redBumpA, redBumpB, redBumpC, redLowA, redLowB,
  redTail1, redTail2, redTail3, redTail4, redTail5, redTail6, redTail7, redTail8];

// ---- styling ----------------------------------------------------------
const FONT = "'Liberation Sans', Arial, Helvetica, sans-serif";
const INK = '#262626';
const RED = '#ff0000';
const BLUE = '#0000ff';

function toPoints(run, step) {
  return run.map((v, i) => ({ x: FIRST_SAMPLE + i * step, y: v * MPSI }));
}

const datasets = [];
redRuns.forEach((run) => datasets.push({
  data: toPoints(run, RED_STEP),
  borderColor: RED,
  borderWidth: 1.3,
  pointRadius: 0,
  fill: false,
  tension: 0,
  order: 0
}));
blueRuns.forEach((run) => datasets.push({
  data: toPoints(run, BLUE_STEP),
  borderColor: BLUE,
  borderWidth: 1,
  pointStyle: 'rectRot',
  pointRadius: 5.5,
  pointBorderWidth: 2,
  pointBorderColor: BLUE,
  pointBackgroundColor: 'rgba(0,0,0,0)',
  fill: false,
  tension: 0,
  clip: false,
  order: 1
}));

// Closed box with inward tick marks on all four sides, plus the title.
const TICK_LEN = 8;
const boxTicks = {
  id: 'boxTicks',
  beforeDatasetsDraw(chart) {
    const { ctx, chartArea: a, scales } = chart;
    const L = Math.round(a.left) + 0.5, R = Math.round(a.right) - 0.5;
    const T = Math.round(a.top) + 0.5, B = Math.round(a.bottom) - 0.5;
    ctx.save();
    ctx.strokeStyle = INK;
    ctx.lineWidth = 1;
    ctx.beginPath();
    ctx.rect(L, T, R - L, B - T);
    scales.x.ticks.forEach((t) => {
      const px = Math.round(scales.x.getPixelForValue(t.value)) + 0.5;
      ctx.moveTo(px, B); ctx.lineTo(px, B - TICK_LEN);
      ctx.moveTo(px, T); ctx.lineTo(px, T + TICK_LEN);
    });
    scales.y.ticks.forEach((t) => {
      const py = Math.round(scales.y.getPixelForValue(t.value)) + 0.5;
      ctx.moveTo(L, py); ctx.lineTo(L + TICK_LEN, py);
      ctx.moveTo(R, py); ctx.lineTo(R - TICK_LEN, py);
    });
    ctx.stroke();
    ctx.restore();
  },
  afterDraw(chart) {
    const { ctx, chartArea: a } = chart;
    ctx.save();
    ctx.fillStyle = '#000000';
    ctx.font = 'bold 20.5px ' + FONT;
    ctx.textAlign = 'center';
    ctx.textBaseline = 'middle';
    ctx.fillText(TITLE, (a.left + a.right) / 2 + 10, 15);
    ctx.restore();
  }
};

new Chart(document.getElementById('chart'), {
  type: 'line',
  data: { datasets },
  options: {
    responsive: false,
    animation: false,
    devicePixelRatio: 1,
    events: [],
    layout: { padding: { top: 32, right: 16, bottom: 0, left: 0 } },
    plugins: {
      legend: { display: false },
      tooltip: { enabled: false },
      title: { display: false }
    },
    scales: {
      x: {
        type: 'linear',
        min: 0,
        max: 250,
        grid: { display: false, drawTicks: false },
        border: { display: false },
        afterBuildTicks: (s) => { s.ticks = xTickValues.map((v) => ({ value: v })); },
        afterFit: (s) => { s.height = 49; },
        ticks: { color: INK, font: { family: FONT, size: 18 }, padding: 8, maxRotation: 0, autoSkip: false },
        title: { display: true, text: 'sample num', color: INK, font: { family: FONT, size: 19 }, padding: { top: 0, bottom: 5 } }
      },
      y: {
        type: 'linear',
        min: -0.7,
        max: 0.2,
        grid: { display: false, drawTicks: false },
        border: { display: false },
        afterBuildTicks: (s) => { s.ticks = yTickValues.map((v) => ({ value: v })); },
        afterFit: (s) => { s.width = 72; },
        ticks: {
          color: INK,
          font: { family: FONT, size: 18 },
          padding: 6,
          autoSkip: false,
          callback: (v, i) => yTickLabels[i]
        },
        title: { display: true, text: 'psi', color: INK, font: { family: FONT, size: 19 }, padding: { top: 6, bottom: 0 } }
      }
    }
  },
  plugins: [boxTicks]
});
</script>
</body>
</html>
